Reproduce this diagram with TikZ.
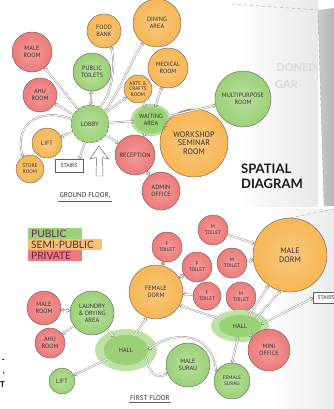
\documentclass[tikz,border=0pt]{standalone}
\usepackage{fontspec}
\setmainfont{PT Sans}
\newfontfamily\handf{PT Sans}
\newfontfamily\titlef{Lato}
\usetikzlibrary{arrows.meta,shapes.geometric}
\definecolor{gf}{RGB}{155,209,118}
\definecolor{of}{RGB}{247,182,84}
\definecolor{rf}{RGB}{238,122,122}
\definecolor{outl}{RGB}{95,95,95}
\definecolor{txt}{RGB}{55,45,45}
\definecolor{legtxt}{RGB}{90,35,75}
\definecolor{linec}{RGB}{105,105,105}
\begin{document}
\begin{tikzpicture}[x=1pt,y=-1pt,
  room/.style={circle, draw=outl, line width=0.4pt, inner sep=0pt, align=center,
    font=\handf\fontsize{6.2}{6.8}\selectfont, text=txt, minimum size=#1},
  pub/.style={room=#1, inner color=gf!70!white, outer color=gf},
  semi/.style={room=#1, inner color=of!75!white, outer color=of},
  priv/.style={room=#1, inner color=rf!75!white, outer color=rf},
  small/.style={font=\handf\fontsize{5.2}{5.8}\selectfont},
  big/.style={font=\handf\fontsize{8}{8.8}\selectfont},
  blobn/.style={ellipse, fill=gf, inner sep=0pt, align=center,
    font=\handf\fontsize{6.2}{6.8}\selectfont, text=txt},
  boxs/.style={rectangle, draw=outl, fill=white, line width=0.4pt, inner sep=1pt,
    font=\handf\fontsize{5.6}{6.2}\selectfont, text=txt},
  conn/.style={draw=linec, line width=0.3pt, double=white, double distance=1.1pt,
    -{Straight Barb[length=2.6pt,width=4.4pt]}},
  conn2/.style={conn, {Straight Barb[length=2.6pt,width=4.4pt]}-{Straight Barb[length=2.6pt,width=4.4pt]}},
  legbox/.style={rectangle, inner sep=0pt, minimum height=10.5pt, anchor=north west},
  legtext/.style={anchor=west, inner sep=0pt, text=legtxt, font=\titlef\fontsize{10.2}{11}\selectfont},
  label/.style={font=\handf\fontsize{7}{8}\selectfont, text=txt, inner sep=1pt},
]
\useasboundingbox (0,0) rectangle (334,409);
\fill[white] (0,0) rectangle (334,409);
% page shadows
\shade[left color=white, right color=gray!18] (235,0) rectangle (318,206);
\shade[left color=gray!42, right color=gray!58] (318,10) -- (334,8) -- (334,206) -- (324,206) -- cycle;
\draw[gray!65, dashed, line width=0.5pt] (232,4) -- (318,10) -- (324,206);
\shade[left color=white, right color=gray!16] (270,209) rectangle (334,409);
\draw[gray!65, dashed, line width=0.5pt] (290,218) -- (334,209);
% faint background words
\node[font=\titlef\bfseries\fontsize{11}{12}\selectfont, text=gray!28, anchor=east, inner sep=0pt] (hg1) at (317,68) {DONED};
\node[font=\titlef\bfseries\fontsize{11}{12}\selectfont, text=gray!28, anchor=east, inner sep=0pt] (hg2) at (298,85) {GAR};
% left page fragments
\node[font=\titlef\bfseries\fontsize{8}{9}\selectfont, anchor=east, inner sep=0pt] (lf1) at (5,361) {-};
\node[font=\titlef\bfseries\fontsize{8}{9}\selectfont, anchor=east, inner sep=0pt] (lf2) at (5,373) {,};
\node[font=\titlef\bfseries\fontsize{8}{9}\selectfont, anchor=east, inner sep=0pt] (lf3) at (5,385) {T};

% ===== GROUND FLOOR =====
\node[semi=34] (foodbank) at (104,31) {FOOD\\BANK};
\node[semi=48] (dining) at (157,23) {DINING\\AREA};
\node[priv=40] (maleroom) at (32,52) {MALE\\ROOM};
\node[pub=38] (toilets) at (92,72) {PUBLIC\\TOILETS};
\node[semi=40] (medical) at (168,68) {MEDICAL\\ROOM};
\node[priv=34] (ahu) at (40,95) {AHU\\ROOM};
\node[semi=28, small] (arts) at (138,89) {ARTS \&\\CRAFTS\\ROOM};
\node[pub=38, densely dashed] (lobby) at (90,124) {LOBBY};
\fill[gf!75!white] (151,120) ellipse [x radius=20, y radius=16];
\node[blobn, minimum width=34, minimum height=26] (waiting) at (151,120) {WAITING\\AREA};
\node[pub=56] (multi) at (243,99) {MULTIPURPOSE\\ROOM};
\node[semi=68, big] (workshop) at (194,143) {WORKSHOP\\SEMINAR\\ROOM};
\node[semi=30] (lift) at (47,143) {LIFT};
\node[semi=28, small] (store) at (30,169) {STORE\\ROOM};
\node[boxs, minimum width=28, minimum height=13] (stairs) at (69,166) {STAIRS};
\node[priv=40] (reception) at (135,155) {RECEPTION};
\node[priv=38] (admin) at (161,191) {ADMIN\\OFFICE};
% hollow up arrow
\draw[outl, fill=white, line width=0.45pt] (99,146) -- (108.5,159) -- (102.5,157.5) -- (103,176) -- (96,176) -- (96.5,157.5) -- (90,159) -- cycle;

% ground connectors
\draw[conn] (lobby) -- (maleroom);
\draw[conn] (lobby) -- (ahu);
\draw[conn2] (lobby) -- (toilets);
\draw[conn] (lobby.60) .. controls (112,95) and (116,65) .. (foodbank.-65);
\draw[conn] (lobby.42) .. controls (120,92) and (130,62) .. (dining.-125);
\draw[conn] (lobby) -- (arts);
\draw[conn] (lobby) -- (waiting);
\draw[conn] (lobby) -- (lift);
\draw[conn] (lobby.165) .. controls (45,108) and (12,120) .. (store.120);
\draw[conn] (lobby.-105) -- ([xshift=-4pt]stairs.north east);
\draw[conn] (lobby) -- (reception);
\draw[conn2] (waiting) -- (medical);
\draw[conn] (waiting) -- (multi);
\draw[conn] (waiting) -- (workshop);
\draw[conn] (arts) -- (waiting);
\draw[conn] (waiting) -- (reception);
\draw[conn2] (reception) -- (admin);

\node[label] (gflabel) at (85,196) {GROUND FLOOR,};
\draw[outl, line width=0.4pt] ([yshift=-0.5pt]gflabel.south west) -- ([yshift=-0.5pt]gflabel.south east);

\node[font=\titlef\bfseries\fontsize{13}{14.5}\selectfont, text=black!90, align=left, anchor=north west, inner sep=0pt] (title) at (241,164) {SPATIAL\\DIAGRAM};

% legend
\node[legbox, fill=gf, minimum width=54pt] (lgpub) at (28,228) {};
\node[legbox, fill=of!85!white, minimum width=74pt] (lgsemi) at (28,239) {};
\node[legbox, fill=rf, minimum width=54pt] (lgpriv) at (28,250) {};
\node[legtext] (ltpub) at (31,233.5) {PUBLIC};
\node[legtext] (ltsemi) at (31,244.5) {SEMI-PUBLIC};
\node[legtext] (ltpriv) at (31,255.5) {PRIVATE};

% ===== FIRST FLOOR =====
\node[priv=30, small] (ft1) at (167,247) {F\\TOILET};
\node[priv=30, small] (ft2) at (197,267) {F\\TOILET};
\node[priv=28, small] (ft3) at (207,296) {F\\TOILET};
\node[priv=30, small] (mt1) at (213,230) {M\\TOILET};
\node[priv=30, small] (mt2) at (232,263) {M\\TOILET};
\node[priv=30, small] (mt3) at (241,297) {M\\TOILET};
\node[semi=74, big] (maledorm) at (290,255) {MALE\\DORM};
\node[semi=54] (femdorm) at (156,292) {FEMALE\\DORM};
\node[boxs, minimum width=26, minimum height=11, anchor=west] (stairs2) at (313,298) {STAIRS};

\node[priv=34] (mroom1) at (44,308) {MALE\\ROOM};
\node[priv=30] (ahu1) at (50,343) {AHU\\ROOM};
\node[pub=44] (laundry) at (92,313) {LAUNDRY\\\& DRYING\\AREA};
\fill[gf!65!white] (126,350) ellipse [x radius=31, y radius=21];
\node[blobn, minimum width=44, minimum height=30] (hallL) at (126,350) {HALL};
\node[pub=26] (liftF) at (62,381) {LIFT};
\fill[gf!65!white] (240,326) ellipse [x radius=29, y radius=16];
\node[blobn, minimum width=42, minimum height=22] (hallR) at (240,326) {HALL};
\node[priv=42] (mini) at (269,350) {MINI\\OFFICE};
\node[pub=44] (msurau) at (188,365) {MALE\\SURAU};
\node[pub=36, small] (fsurau) at (232,381) {FEMALE\\SURAU};

% first floor connectors
\draw[conn2] (femdorm) -- (ft1);
\draw[conn2] (femdorm) -- (ft2);
\draw[conn] (ft3) -- (femdorm);
\draw[conn] (mt1) -- (maledorm);
\draw[conn] (mt2) -- (maledorm);
\draw[conn] (hallR.50) -- (maledorm.-125);
\draw[conn] (hallR.25) -- (maledorm.-105);
\draw[conn2] (stairs2.west) -- (hallR.5);
\draw[conn] (hallR.160) -- (femdorm.-30);
\draw[conn] (hallR) -- (mini);
\draw[conn2] (hallR.-100) -- (fsurau.north);
\draw[conn2] (fsurau.150) .. controls (212,330) and (172,330) .. (hallL.east);
\draw[conn] (hallL.-20) .. controls (150,376) and (160,380) .. (msurau.-160);
\draw[conn] (laundry) -- (hallL);
\draw[conn] (hallL.60) -- (femdorm.-110);
\draw[conn] (hallL) -- (liftF);
\draw[conn2] (laundry) -- (mroom1);
\draw[conn] (laundry) -- (ahu1);

\node[label] (fflabel) at (150,398) {FIRST FLOOR};
\draw[outl, line width=0.4pt] ([yshift=-0.5pt]fflabel.south west) -- ([yshift=-0.5pt]fflabel.south east);
\end{tikzpicture}
\end{document}
